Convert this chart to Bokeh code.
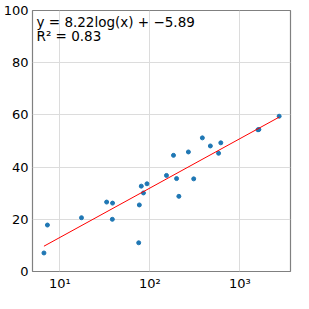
import numpy as np
from bokeh.plotting import figure
from bokeh.models import Range1d, Label, FixedTicker, ColumnDataSource
from bokeh.embed import file_html
from bokeh.resources import INLINE

# data
x_vals = [6.66, 7.28, 17.4, 33.1, 38.5, 38.3, 76.4, 75.2, 80.3, 84.9, 92.9,
          153, 183, 198, 210, 268, 307, 383, 470, 580, 614, 1589, 1625, 2730]
y_vals = [7.1, 17.8, 20.6, 26.6, 26.2, 20.0, 25.5, 11.0, 32.7, 30.1, 33.6,
          36.8, 44.5, 35.6, 28.8, 45.8, 35.5, 51.2, 48.1, 45.3, 49.3, 54.3, 54.4, 59.5]

fit_slope = 8.22
fit_intercept = -5.89
fit_r2 = 0.83

x_ticks = [10, 100, 1000]
x_tick_labels = {10: "10¹", 100: "10²", 1000: "10³"}
y_ticks = [0, 20, 40, 60, 80, 100]

p = figure(width=293, height=293, x_axis_type="log",
           x_range=Range1d(4.97, 3650), y_range=Range1d(0, 100),
           output_backend="svg", toolbar_location=None,
           min_border_top=10, min_border_right=3, min_border_left=0, min_border_bottom=0)

p.background_fill_color = "white"
p.border_fill_color = "white"
p.outline_line_color = "#808080"
p.outline_line_width = 1.2

for ax in (p.xaxis, p.yaxis):
    ax.axis_line_color = None
    ax.major_tick_line_color = None
    ax.minor_tick_line_color = None
    ax.major_tick_out = 0
    ax.major_tick_in = 0
    ax.minor_tick_out = 0
    ax.minor_tick_in = 0
    ax.major_label_text_font = "DejaVu Sans"
    ax.major_label_text_font_size = "13px"
    ax.major_label_text_color = "black"
    ax.major_label_standoff = 4

p.xaxis.ticker = FixedTicker(ticks=x_ticks, minor_ticks=[])
p.xaxis.major_label_overrides = {float(k): v for k, v in x_tick_labels.items()}
p.yaxis.ticker = FixedTicker(ticks=y_ticks, minor_ticks=[])

p.xgrid.grid_line_color = "#dcdcdc"
p.ygrid.grid_line_color = "#dcdcdc"

src = ColumnDataSource(dict(x=x_vals, y=y_vals))
p.scatter("x", "y", source=src, size=4, color="#1f77b4")

xs = np.array(x_vals)
lx = np.array([xs.min(), xs.max()])
ly = fit_slope * np.log(lx) + fit_intercept
p.line(lx, ly, line_color="red", line_width=1)

lab1 = Label(x=4, y=98.5, x_units="screen", y_units="data",
             text=f"y = {fit_slope:.2f}log(x) + −{abs(fit_intercept):.2f}",
             text_font="DejaVu Sans", text_font_size="13.5px", text_baseline="top",
             text_color="black")
lab2 = Label(x=4, y=93.3, x_units="screen", y_units="data",
             text=f"R² = {fit_r2:.2f}",
             text_font="DejaVu Sans", text_font_size="13.5px", text_baseline="top",
             text_color="black")
p.add_layout(lab1)
p.add_layout(lab2)

open("out.html", "w").write(file_html(p, INLINE))
